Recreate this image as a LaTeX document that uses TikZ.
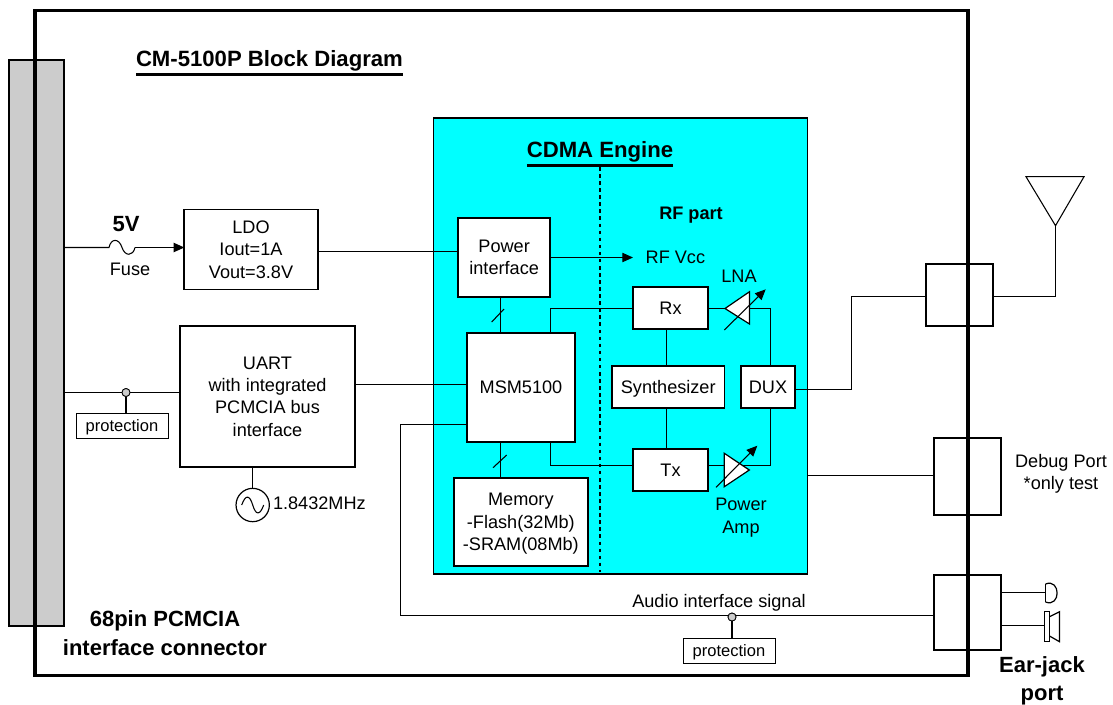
\documentclass[tikz,border=0pt]{standalone}
\usepackage{fontspec}
\setmainfont{Liberation Sans}
\usetikzlibrary{arrows.meta,calc}
\definecolor{engine}{RGB}{0,255,255}
\definecolor{pinc}{RGB}{204,204,204}
\tikzset{
  x=0.75pt,y=-0.75pt,
  every node/.style={font=\fontsize{13.6}{16.7}\selectfont,align=center,inner sep=0pt,outer sep=0pt},
  wire/.style={line width=0.8pt},
  blockbox/.style={draw,fill=white,line width=1.35pt,anchor=north west},
  thinbox/.style={draw,fill=white,line width=0.6pt,anchor=north west,text depth=0pt,font=\fontsize{12.4}{15}\selectfont},
  portbox/.style={draw,line width=1.2pt,anchor=north west},
  headline/.style={font=\fontsize{16.6}{20}\selectfont\bfseries},
  boldlabel/.style={font=\fontsize{16.5}{20.8}\selectfont\bfseries},
  dotnode/.style={circle,draw,fill=pinc,minimum size=6pt,line width=0.6pt},
  tip/.style={-{Triangle[length=8pt,width=7pt]}},
  ampshape/.style={draw,fill=white,line width=0.9pt,line join=miter},
}
\newcommand{\bx}[6]{\node[#1,minimum width=#4*0.75pt,minimum height=#5*0.75pt] (#2) at (#3) {#6};}
\newcommand{\ulbold}[1]{\vtop{\hbox{#1}\kern1.5pt\hrule height 1.8pt}}
\begin{document}
\begin{tikzpicture}
\useasboundingbox (0,0) rectangle (1113,704);
% connector strip and outer frame
\node[draw,fill=pinc,line width=1.2pt,anchor=north west,minimum width=55*0.75pt,minimum height=566*0.75pt] (conn) at (9,60) {};
\node[draw,line width=2.6pt,anchor=north west,minimum width=933*0.75pt,minimum height=665*0.75pt] (frame) at (35,10.5) {};
% engine
\node[draw,fill=engine,line width=1.35pt,anchor=north west,minimum width=374*0.75pt,minimum height=456*0.75pt] (engine) at (433.5,118.3) {};
\coordinate (divtop) at (600,167);
\coordinate (divbot) at (600,572);
\draw[line width=1.5pt,dash pattern=on 2.7pt off 2.6pt] (divtop) -- (divbot);
% titles
\node[headline,anchor=base west] (title) at (136,66.5) {\ulbold{CM-5100P Block Diagram}};
\node[headline,anchor=base] (cdma) at (600,157.7) {\ulbold{CDMA Engine}};
\node[font=\fontsize{13.6}{16}\selectfont\bfseries] (rfpart) at (691,215) {RF part};
% left blocks
\bx{blockbox}{ldo}{184.3,209.5}{133.4}{80}{LDO\\Iout=1A\\Vout=3.8V}
\bx{blockbox}{uart}{180,326}{175}{141}{UART\\with integrated\\PCMCIA bus\\interface}
\bx{thinbox}{protA}{76,413}{92}{25.5}{protection}
\bx{thinbox}{protB}{683,638}{92}{25}{protection}
% engine blocks
\bx{blockbox}{pwr}{458.3,218.3}{91.7}{78.5}{Power\\interface}
\bx{blockbox}{msm}{467,333}{108}{109}{MSM5100}
\bx{blockbox,text depth=0pt}{mem}{454,478}{133.7}{87.7}{Memory\\-Flash(32Mb)\\-SRAM(08Mb)}
\bx{blockbox}{rx}{633,287}{75}{41.7}{Rx}
\bx{blockbox,text depth=0pt}{syn}{612,366}{112.5}{42}{Synthesizer}
\bx{blockbox}{tx}{633,449}{75}{41.7}{Tx}
\bx{blockbox}{dux}{741,366}{54}{42}{DUX}
% ports
\node[portbox,minimum width=66.7*0.75pt,minimum height=62*0.75pt] (pa) at (926,264) {};
\node[portbox,minimum width=67*0.75pt,minimum height=77*0.75pt] (pd) at (934,438) {};
\node[portbox,minimum width=67*0.75pt,minimum height=75*0.75pt] (pe) at (934,575) {};
% labels
\node[boldlabel] (v5) at (126,224) {5V};
\node (fuselbl) at (130,269) {Fuse};
\node[anchor=west] (freq) at (273,503) {1.8432MHz};
\node[boldlabel] (pcm) at (165,633) {68pin PCMCIA\\[1pt]interface connector};
\node[anchor=west] (rfvcc) at (645.7,257) {RF Vcc};
\node (lna) at (739,276) {LNA};
\node (amp) at (741,517.5) {Power\\Amp};
\node (audio) at (719,603) {Audio interface signal};
\node (dbg) at (1061,473.5) {Debug Port\\*only test};
\node[boldlabel] (ear) at (1042,680.5) {Ear-jack\\port};
% helper points
\coordinate (c5v) at (64,247.5);
\coordinate (fuseL) at (109,247.5);
\coordinate (fuseR) at (135,247.5);
\coordinate (cuart) at (64,392.5);
\coordinate (yldo) at (0,251.5);
\coordinate (ypwr) at (0,257.5);
\coordinate (rfv) at (633,257.5);
\coordinate (yuart) at (0,384.5);
\coordinate (yaudio) at (0,424.5);
\coordinate (yaudiob) at (0,615.5);
\coordinate (xaudio) at (400.5,0);
\coordinate (xa) at (500.5,0);
\coordinate (xb) at (550.5,0);
\coordinate (xc) at (666.5,0);
\coordinate (xd) at (770.5,0);
\coordinate (yrx) at (0,308.5);
\coordinate (ytx) at (0,465.5);
\coordinate (ydux) at (0,389.5);
\coordinate (ypa) at (0,296.5);
\coordinate (xmid) at (851.5,0);
\coordinate (antTip) at (1055.5,225.7);
\coordinate (antL) at (1026,176.7);
\coordinate (antR) at (1084,176.7);
\coordinate (dbgS) at (808,475.5);
\coordinate (micL) at (1045.5,592.5);
\coordinate (spkL) at (1044.3,625.5);
\coordinate (lnaTip) at (725,308.5);
\coordinate (lnaTop) at (749.5,291.7);
\coordinate (lnaBot) at (749.5,324);
\coordinate (paTip) at (749.3,470);
\coordinate (paTop) at (724.3,453.3);
\coordinate (paBot) at (724.3,486.7);
\node[dotnode] (dotA) at (126,392.5) {};
\node[dotnode] (dotB) at (732,617) {};
\node[draw,circle,line width=0.9pt,minimum size=25pt] (osc) at (252.7,505) {};
% wires
\draw[wire] (c5v) -- (fuseL) .. controls (111,238) and (119,238) .. (122,247.5) .. controls (125,256.5) and (133,256.5) .. (fuseR);
\draw[wire,tip] (fuseR) -- (ldo.west |- fuseR);
\draw[wire] (ldo.east |- yldo) -- (pwr.west |- yldo);
\draw[wire,tip] (pwr.east |- ypwr) -- (rfv);
\draw[wire] (cuart) -- (dotA) -- (uart.west |- dotA);
\draw[wire] (dotA) -- (dotA |- protA.north);
\draw[wire] (uart.east |- yuart) -- (msm.west |- yuart);
\draw[wire] (uart.south -| osc) -- (osc.north);
\draw[wire] ($(osc)+(-11,0)$) .. controls ($(osc)+(-7,-11)$) and ($(osc)+(-3,-10)$) .. (osc.center) .. controls ($(osc)+(3,10)$) and ($(osc)+(7,11)$) .. ($(osc)+(11,0)$);
\draw[wire] (pwr.south -| xa) -- (msm.north -| xa);
\draw[wire] (msm.south -| xa) -- (mem.north -| xa);
\coordinate (slA1) at (491.7,322); \coordinate (slA2) at (504,309);
\coordinate (slB1) at (493,467.7); \coordinate (slB2) at (506.7,455);
\draw[wire] (slA1) -- (slA2);
\draw[wire] (slB1) -- (slB2);
\draw[wire] (msm.north -| xb) |- (rx.west |- yrx);
\draw[wire] (msm.south -| xb) |- (tx.west |- ytx);
\draw[wire] (rx.south -| xc) -- (syn.north -| xc);
\draw[wire] (syn.south -| xc) -- (tx.north -| xc);
\draw[wire] (rx.east |- yrx) -- (lnaTip);
\draw[wire] (lnaTip) -- (xd |- yrx) -- (dux.north -| xd);
\draw[wire] (tx.east |- ytx) -- (paTop |- ytx);
\draw[wire] (paTop |- ytx) -- (xd |- ytx) -- (dux.south -| xd);
\draw[ampshape] (lnaTip) -- (lnaTop) -- (lnaBot) -- cycle;
\draw[ampshape] (paTip) -- (paTop) -- (paBot) -- cycle;
\coordinate (lnaA) at (724.3,330); \coordinate (lnaB) at (765.7,289.3);
\coordinate (paA) at (716,487.3); \coordinate (paB) at (757.3,445.7);
\draw[wire,tip] (lnaA) -- (lnaB);
\draw[wire,tip] (paA) -- (paB);
\draw[wire] (dux.east |- ydux) -- (xmid |- ydux) -- (xmid |- ypa) -- (pa.west |- ypa);
\draw[wire] (pa.east |- ypa) -- (antTip |- ypa) -- (antTip);
\draw[wire,line join=miter] (antTip) -- (antL) -- (antR) -- cycle;
\draw[wire] (dbgS) -- (pd.west |- dbgS);
\draw[wire] (msm.west |- yaudio) -- (xaudio |- yaudio) -- (xaudio |- yaudiob) -- (pe.west |- yaudiob);
\draw[wire] (dotB) -- (dotB |- protB.north);
\node[dotnode] at (dotB) {};
\node[dotnode] at (dotA) {};
% ear-jack devices
\draw[wire] (pe.east |- micL) -- (micL);
\draw[wire] (pe.east |- spkL) -- (spkL);
\draw[line width=0.9pt] (1045.5,584) -- (1045.5,602);
\draw[line width=0.9pt] (1045.5,584) .. controls (1061,578) and (1061,608) .. (1045.5,602);
\draw[line width=0.9pt] (1044.5,611.7) rectangle (1049.5,641.7);
\draw[line width=0.9pt] (1049.5,616.7) -- (1059.5,611.7) -- (1059.5,641.7) -- (1049.5,636);
\end{tikzpicture}
\end{document}
